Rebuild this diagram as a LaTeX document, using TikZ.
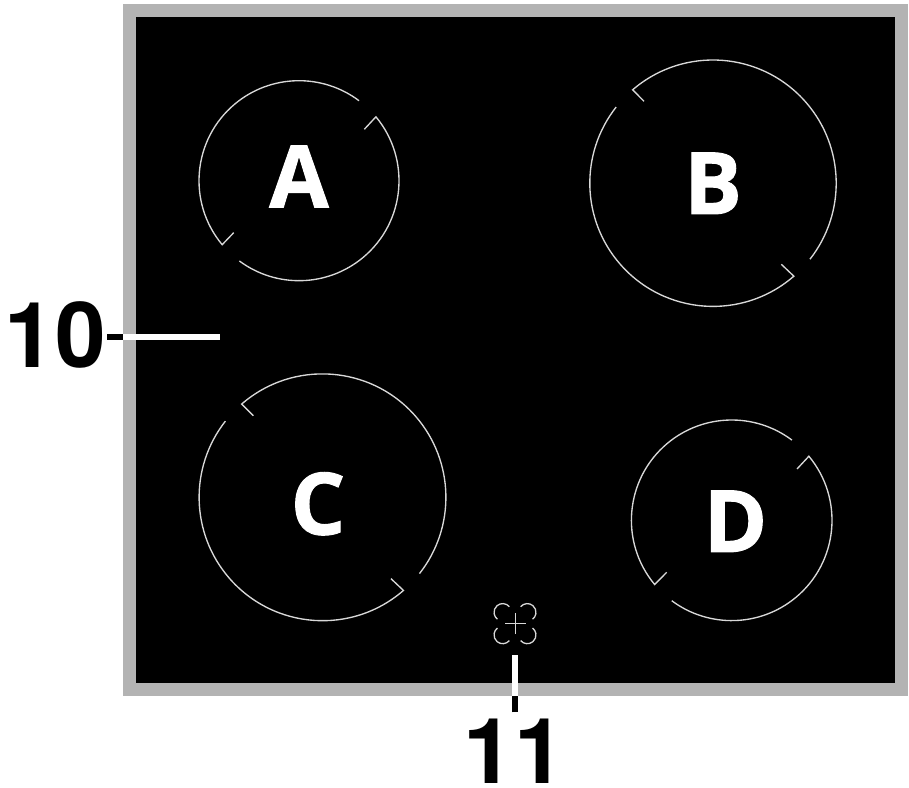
\documentclass[tikz,border=0pt]{standalone}
\usepackage{fontspec}
\usetikzlibrary{calc}
\setmainfont{Open Sans}[BoldFeatures={FakeBold=1.1}]
\newfontfamily\digitfont{TeX Gyre Heros}
\tikzset{
  x=1pt,y=1pt,
  hobline/.style={draw=hobgrey,line width=1.35pt,line join=miter},
  iconline/.style={draw=hobgrey,line width=1.3pt},
  hoblabel/.style={text=white,inner sep=0pt,anchor=base,font=\fontsize{86}{86}\selectfont\bfseries},
  calllabel/.style={text=black,inner sep=0pt,anchor=base,font=\fontsize{91}{91}\digitfont\bfseries}
}
\definecolor{hobgrey}{HTML}{D8D8D8}
\definecolor{framegrey}{HTML}{B3B3B3}
\begin{document}
\begin{tikzpicture}
\useasboundingbox (0,0) rectangle (909,787);
% hob
\fill[framegrey] (123,91) rectangle (908,782.5);
\fill[black] (136,104) rectangle (894.7,769.5);
% zone A
\coordinate (ca) at (299,606.3);
\draw[hobline] (364.3,657.7) -- ($(ca)+(39.7:100)$) arc[start angle=39.7,end angle=-126.6,radius=100pt];
\draw[hobline] (233.7,554.3) -- ($(ca)+(219.8:100)$) arc[start angle=219.8,end angle=53.1,radius=100pt];
% zone B
\coordinate (cb) at (713,603.8);
\draw[hobline] (644,685.7) -- ($(cb)+(130.7:123.2)$) arc[start angle=130.7,end angle=-38.1,radius=123.2pt];
\draw[hobline] (781.3,522.7) -- ($(cb)+(-49:123.2)$) arc[start angle=-49,end angle=-218.2,radius=123.2pt];
% zone C
\coordinate (cc) at (322.5,289.7);
\draw[hobline] (253.3,371.3) -- ($(cc)+(130.9:123.4)$) arc[start angle=130.9,end angle=-38.2,radius=123.4pt];
\draw[hobline] (391,208.3) -- ($(cc)+(-49:123.4)$) arc[start angle=-49,end angle=-218.1,radius=123.4pt];
% zone D
\coordinate (cd) at (731.7,266.7);
\draw[hobline] (797,318) -- ($(cd)+(39.7:100.3)$) arc[start angle=39.7,end angle=-126.7,radius=100.3pt];
\draw[hobline] (666.7,214.7) -- ($(cd)+(219.8:100.3)$) arc[start angle=219.8,end angle=53.1,radius=100.3pt];
% bridge icon
\coordinate (p1) at (502.7,174.7);
\coordinate (p2) at (527.3,174.7);
\coordinate (p3) at (502.7,152);
\coordinate (p4) at (527.3,152);
\draw[iconline] ($(p1)+(40:8.7)$) arc[start angle=40,end angle=233,radius=8.7pt];
\draw[iconline] ($(p2)+(140:8.7)$) arc[start angle=140,end angle=-53,radius=8.7pt];
\draw[iconline] ($(p3)+(-40:8.7)$) arc[start angle=-40,end angle=-233,radius=8.7pt];
\draw[iconline] ($(p4)+(-140:8.7)$) arc[start angle=-140,end angle=53,radius=8.7pt];
\draw[iconline] (505,163.4) -- (526,163.4);
\draw[iconline] (515.3,153) -- (515.3,174);
% labels
\node[hoblabel] (la) at (299,579.7) {A};
\node[hoblabel] (lb) at (713,573) {B};
\node[hoblabel] (lc) at (318,252.5) {C};
\node[hoblabel] (ld) at (735.5,235) {D};
\node[calllabel] (n10) at (55,419) {10};
\node[calllabel] (n11) at (514,4) {11};
% leaders
\coordinate (a0) at (107,450.4);
\coordinate (a1) at (123,450.4);
\coordinate (a2) at (220,450.4);
\coordinate (b0) at (515.2,74.7);
\coordinate (b1) at (515.2,91);
\coordinate (b2) at (515.2,132);
\draw[black,line width=6pt] (a0) -- (a1);
\draw[white,line width=6pt] (a1) -- (a2);
\draw[black,line width=5.7pt] (b0) -- (b1);
\draw[white,line width=5.7pt] (b1) -- (b2);
\end{tikzpicture}
\end{document}
